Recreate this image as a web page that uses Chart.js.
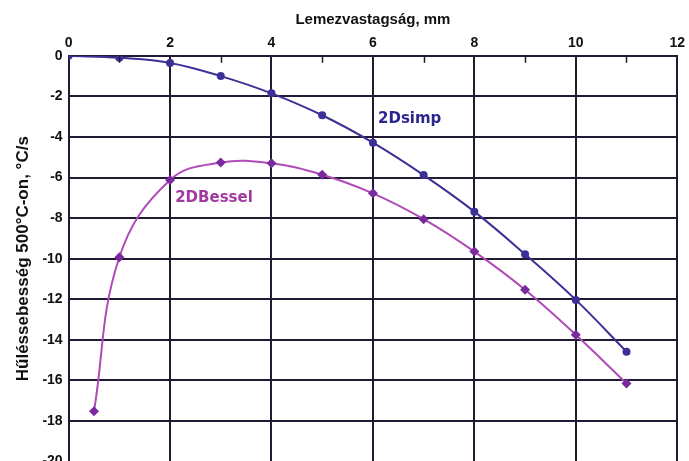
<!DOCTYPE html>
<html>
<head>
<meta charset="utf-8">
<script src="https://cdn.jsdelivr.net/npm/chart.js@4/dist/chart.umd.min.js"></script>
<style>
  html, body { margin: 0; padding: 0; background: #fff; overflow: hidden; }
  #wrap { width: 689px; height: 461px; overflow: hidden; }
  #box { width: 689px; height: 476px; }
</style>
</head>
<body>
<div id="wrap"><div id="box"><canvas id="c"></canvas></div></div>
<script>
// Plate thickness (mm) and cooling rate at 500 °C (°C/s)
const simpX = [0, 1, 2, 3, 4, 5, 6, 7, 8, 9, 10, 11];
const simpY = [0, -0.1, -0.35, -1.0, -1.85, -2.93, -4.28, -5.88, -7.68, -9.78, -12.03, -14.58];
const besselX = [0.5, 1, 2, 3, 4, 5, 6, 7, 8, 9, 10, 11];
const besselY = [-17.52, -9.93, -6.12, -5.26, -5.3, -5.86, -6.78, -8.05, -9.65, -11.53, -13.75, -16.15];
const xTicks = [0, 2, 4, 6, 8, 10, 12];
const yTicks = [0, -2, -4, -6, -8, -10, -12, -14, -16, -18, -20];

const BLUE = '#3b3096';
const MAGENTA = '#b04ab8';
const MAGENTA_PT = '#7a2a9e';
const GRID = '#221a33';
const FONT = "'Liberation Sans', Arial, sans-serif";

const pairs = (xs, ys) => xs.map((x, i) => ({ x: x, y: ys[i] }));

// series name labels placed beside the curves
const seriesLabels = {
  id: 'seriesLabels',
  afterDatasetsDraw(chart) {
    const { ctx, scales } = chart;
    const items = [
      { text: '2Dsimp', x: 6.1, y: -3.1, color: '#2c2590' },
      { text: '2DBessel', x: 2.1, y: -7.0, color: '#a03aa0' }
    ];
    ctx.save();
    ctx.font = "bold 15px 'DejaVu Sans', sans-serif";
    ctx.textBaseline = 'middle';
    ctx.textAlign = 'left';
    items.forEach(it => {
      ctx.fillStyle = it.color;
      ctx.fillText(it.text, scales.x.getPixelForValue(it.x), scales.y.getPixelForValue(it.y));
    });
    ctx.restore();
  }
};

// small inward ticks on the top edge at odd thicknesses
const minorTicks = {
  id: 'minorTicks',
  afterDraw(chart) {
    const { ctx, scales, chartArea } = chart;
    ctx.save();
    ctx.strokeStyle = GRID;
    ctx.lineWidth = 1.5;
    for (let v = 1; v < 12; v += 2) {
      const px = Math.round(scales.x.getPixelForValue(v)) + 0.5;
      ctx.beginPath();
      ctx.moveTo(px, chartArea.top);
      ctx.lineTo(px, chartArea.top + 7);
      ctx.stroke();
    }
    ctx.restore();
  }
};

new Chart(document.getElementById('c'), {
  type: 'scatter',
  data: {
    datasets: [
      {
        label: '2Dsimp',
        data: pairs(simpX, simpY),
        showLine: true,
        borderColor: BLUE,
        backgroundColor: BLUE,
        borderWidth: 2,
        pointStyle: 'circle',
        pointRadius: 4,
        pointBorderWidth: 0,
        tension: 0.4
      },
      {
        label: '2DBessel',
        data: pairs(besselX, besselY),
        showLine: true,
        borderColor: MAGENTA,
        backgroundColor: MAGENTA_PT,
        borderWidth: 2,
        pointStyle: 'rectRot',
        pointRadius: 5,
        pointBorderWidth: 0,
        tension: 0.4
      }
    ]
  },
  options: {
    responsive: true,
    maintainAspectRatio: false,
    animation: false,
    layout: { padding: { left: 13, right: 2, top: 11, bottom: 0 } },
    plugins: {
      legend: { display: false },
      tooltip: { enabled: false }
    },
    scales: {
      x: {
        type: 'linear',
        position: 'top',
        min: 0, max: 12,
        afterBuildTicks: s => { s.ticks = xTicks.map(v => ({ value: v })); },
        grid: { color: GRID, lineWidth: 2, drawTicks: false },
        border: { color: GRID, width: 2 },
        ticks: {
          padding: 4,
          color: '#111',
          font: { family: FONT, size: 14, weight: 'bold' }
        },
        title: {
          display: true,
          text: 'Lemezvastagság, mm',
          color: '#111',
          padding: { top: 0, bottom: 2 },
          font: { family: FONT, size: 15, weight: 'bold' }
        }
      },
      y: {
        type: 'linear',
        min: -20, max: 0,
        afterBuildTicks: s => { s.ticks = yTicks.map(v => ({ value: v })); },
        grid: { color: GRID, lineWidth: 2, drawTicks: false },
        border: { color: GRID, width: 2 },
        ticks: {
          padding: 6,
          color: '#111',
          font: { family: FONT, size: 14, weight: 'bold' }
        },
        title: {
          display: true,
          text: 'Hűléssebesség 500°C-on, °C/s',
          color: '#111',
          padding: { top: 0, bottom: 3 },
          font: { family: FONT, size: 17, weight: 'bold' }
        }
      }
    }
  },
  plugins: [seriesLabels, minorTicks]
});
</script>
</body>
</html>
